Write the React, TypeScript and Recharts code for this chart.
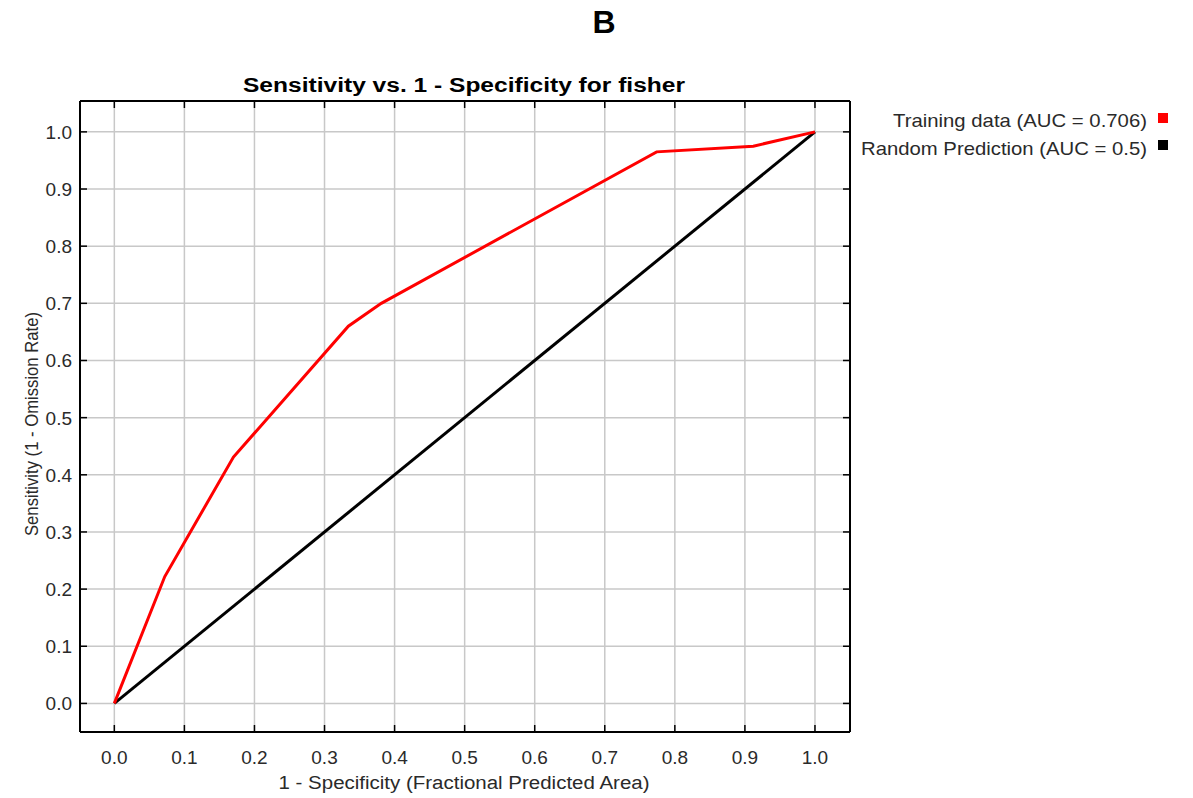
import React from "react";
import { LineChart, Line, XAxis, YAxis, CartesianGrid, ReferenceLine } from "recharts";

const xTicks = [0, 0.1, 0.2, 0.3, 0.4, 0.5, 0.6, 0.7, 0.8, 0.9, 1.0];
const yTicks = [0, 0.1, 0.2, 0.3, 0.4, 0.5, 0.6, 0.7, 0.8, 0.9, 1.0];

const trainingX = [0, 0.072, 0.17, 0.334, 0.381, 0.774, 0.912, 1.0];
const trainingY = [0, 0.222, 0.431, 0.660, 0.700, 0.965, 0.975, 1.0];
const randomX = [0, 1];
const randomY = [0, 1];

const trainingLabel = "Training data (AUC = 0.706)";
const randomLabel = "Random Prediction (AUC = 0.5)";
const chartTitle = "Sensitivity vs. 1 - Specificity for fisher";
const panelLabel = "B";
const xLabel = "1 - Specificity  (Fractional Predicted Area)";
const yLabel = "Sensitivity (1 - Omission Rate)";

const trainingData = trainingX.map((x, i) => ({ x, y: trainingY[i] }));
const randomData = randomX.map((x, i) => ({ x, y: randomY[i] }));

const W = 1193;
const H = 798;
const PLOT_LEFT = 80;
const PLOT_RIGHT = 850;
const PLOT_TOP = 101;
const PLOT_BOTTOM = 732;
const Y_AXIS_W = 50;
const X_AXIS_H = 50;
const TICK = 7;
const FONT = "'Liberation Sans', Arial, sans-serif";
const TICK_COLOR = "#2a2a2a";

const XTick = (props: any) => {
  const { x, payload } = props;
  return (
    <g>
      <line x1={x} y1={PLOT_BOTTOM} x2={x} y2={PLOT_BOTTOM - TICK} stroke="#000" strokeWidth={1.5} />
      <line x1={x} y1={PLOT_TOP} x2={x} y2={PLOT_TOP + TICK} stroke="#000" strokeWidth={1.5} />
      <text x={x} y={764} textAnchor="middle" fontSize={19} fontFamily={FONT} fill={TICK_COLOR}>
        {Number(payload.value).toFixed(1)}
      </text>
    </g>
  );
};

const YTick = (props: any) => {
  const { y, payload } = props;
  return (
    <g>
      <line x1={PLOT_LEFT} y1={y} x2={PLOT_LEFT + TICK} y2={y} stroke="#000" strokeWidth={1.5} />
      <line x1={PLOT_RIGHT} y1={y} x2={PLOT_RIGHT - TICK} y2={y} stroke="#000" strokeWidth={1.5} />
      <text x={72} y={y + 7} textAnchor="end" fontSize={19} fontFamily={FONT} fill={TICK_COLOR}>
        {Number(payload.value).toFixed(1)}
      </text>
    </g>
  );
};

export default function App() {
  return (
    <div style={{ position: "absolute", left: 0, top: 0, width: W, height: H, background: "#fff" }}>
      <LineChart
        width={W}
        height={H}
        margin={{
          top: PLOT_TOP,
          right: W - PLOT_RIGHT,
          bottom: H - PLOT_BOTTOM - X_AXIS_H,
          left: PLOT_LEFT - Y_AXIS_W,
        }}
      >
        <CartesianGrid stroke="#c8c8c8" strokeWidth={1.5} horizontalValues={yTicks} verticalValues={xTicks} />
        <XAxis
          dataKey="x"
          type="number"
          domain={[-0.049, 1.05]}
          ticks={xTicks}
          allowDataOverflow
          height={X_AXIS_H}
          tickLine={false}
          axisLine={{ stroke: "#000", strokeWidth: 2 }}
          tick={<XTick />}
          interval={0}
        />
        <YAxis
          dataKey="y"
          type="number"
          domain={[-0.05, 1.054]}
          ticks={yTicks}
          allowDataOverflow
          width={Y_AXIS_W}
          tickLine={false}
          axisLine={{ stroke: "#000", strokeWidth: 2 }}
          tick={<YTick />}
          interval={0}
        />
        <ReferenceLine y={1.054} stroke="#000" strokeWidth={2} />
        <ReferenceLine x={1.05} stroke="#000" strokeWidth={2} />
        <Line
          data={randomData}
          dataKey="y"
          type="linear"
          stroke="#000000"
          strokeWidth={3}
          dot={false}
          isAnimationActive={false}
        />
        <Line
          data={trainingData}
          dataKey="y"
          type="linear"
          stroke="#ff0000"
          strokeWidth={3}
          dot={false}
          isAnimationActive={false}
        />
      </LineChart>
      <svg
        width={W}
        height={H}
        style={{ position: "absolute", left: 0, top: 0, pointerEvents: "none" }}
      >
        <text x={604} y={33} textAnchor="middle" fontSize={32} fontWeight="bold" fontFamily={FONT} fill="#000">
          {panelLabel}
        </text>
        <text x={464} y={92} textAnchor="middle" fontSize={20} fontWeight="bold" fontFamily={FONT} fill="#000" textLength={442} lengthAdjust="spacingAndGlyphs">
          {chartTitle}
        </text>
        <text x={464} y={789} textAnchor="middle" fontSize={18} fontFamily={FONT} fill={TICK_COLOR} textLength={371} lengthAdjust="spacingAndGlyphs">
          {xLabel}
        </text>
        <text
          x={0}
          y={0}
          transform="translate(38, 424) rotate(-90)"
          textAnchor="middle"
          fontSize={19}
          fontFamily={FONT}
          fill={TICK_COLOR}
          textLength={224}
          lengthAdjust="spacingAndGlyphs"
        >
          {yLabel}
        </text>
        <text x={1147} y={127} textAnchor="end" fontSize={19} fontFamily={FONT} fill={TICK_COLOR} textLength={254} lengthAdjust="spacingAndGlyphs">
          {trainingLabel}
        </text>
        <rect x={1158} y={113} width={10} height={10} fill="#ff0000" />
        <text x={1147} y={155} textAnchor="end" fontSize={19} fontFamily={FONT} fill={TICK_COLOR} textLength={286} lengthAdjust="spacingAndGlyphs">
          {randomLabel}
        </text>
        <rect x={1158} y={140} width={10} height={10} fill="#000000" />
      </svg>
    </div>
  );
}
